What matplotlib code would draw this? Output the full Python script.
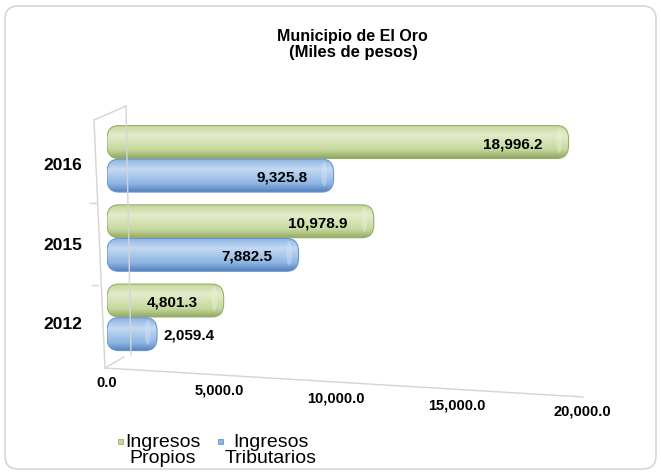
import matplotlib.pyplot as plt
import numpy as np
from matplotlib.patches import FancyBboxPatch, Ellipse, Rectangle
from matplotlib.lines import Line2D
import matplotlib.transforms as mtransforms

plt.rcParams['font.family'] = ['Liberation Sans', 'DejaVu Sans']

years = ['2012', '2015', '2016']
propios = [4801.3, 10978.9, 18996.2]
tributarios = [2059.4, 7882.5, 9325.8]
series_names = ['Ingresos\nPropios', 'Ingresos\nTributarios']
xticks = [0, 5000, 10000, 15000, 20000]

W, H = 661, 474
fig = plt.figure(figsize=(W / 100, H / 100), dpi=100)
fig.patch.set_facecolor('white')


def px(x, y):
    # pixel position (from top-left) -> figure fraction
    return x / W, 1 - y / H


# rounded frame round the whole chart
fig.patches.append(FancyBboxPatch(px(5, 469), 651 / W, 463 / H,
                                  boxstyle='round,pad=0,rounding_size=0.02',
                                  mutation_aspect=W / H, transform=fig.transFigure,
                                  facecolor='none', edgecolor='#d6d6d6', lw=1.2))

ax = fig.add_axes([107 / W, 1 - 372 / H, 486 / W, 252 / H])
for s in ax.spines.values():
    s.set_visible(False)
ax.set_xticks([])
ax.set_yticks([])

# faint 3d walls
wall = '#d4d4d4'
for (x0, y0), (x1, y1) in [((94, 120), (105, 368)), ((94, 120), (126, 106)),
                           ((126, 106), (131, 355)), ((105, 368), (124, 357)),
                           ((105, 368), (583, 397)), ((90, 203), (96, 203)),
                           ((92, 285), (98, 285))]:
    fig.add_artist(Line2D([px(x0, y0)[0], px(x1, y1)[0]], [px(x0, y0)[1], px(x1, y1)[1]],
                          transform=fig.transFigure, color=wall, lw=1))

green = dict(dark='#93a862', base='#c5d89c', light='#e3ecca', edge='#98ad68', cap='#eef4dc')
blue = dict(dark='#5583c0', base='#8eb5e3', light='#c4d9f2', edge='#6a95cd', cap='#d6e6f8')

bar_h = 0.415
off = 0.212
rx = 480
ry = 0.17


def grad_img(c):
    t = np.linspace(0, 1, 64)
    stops = [0, 0.25, 0.7, 1.0]
    cols = [plt.matplotlib.colors.to_rgb(c[k]) for k in ('dark', 'base', 'light', 'base')]
    img = np.zeros((64, 1, 3))
    for ch in range(3):
        img[:, 0, ch] = np.interp(t, stops, [col[ch] for col in cols])
    return img


def cylinder(v, yc, c):
    y0 = yc - bar_h / 2
    patch = FancyBboxPatch((0, y0), v, bar_h,
                           boxstyle=f'round,pad=0,rounding_size={rx}',
                           mutation_aspect=ry / rx, facecolor='none',
                           edgecolor=c['edge'], lw=0.8, zorder=4)
    ax.add_patch(patch)
    im = ax.imshow(grad_img(c), extent=(0, v, y0, y0 + bar_h), origin='lower',
                   aspect='auto', zorder=3, interpolation='bilinear')
    im.set_clip_path(patch)
    cap = Ellipse((v - rx * 0.8, yc + bar_h * 0.05), rx * 0.5, bar_h * 0.75,
                  facecolor=c['cap'], edgecolor='none', alpha=0.4, zorder=3.5)
    ax.add_patch(cap)
    cap.set_clip_path(patch)


ypos = np.arange(len(years))
for i, y in enumerate(ypos):
    cylinder(propios[i], y + off, green)
    cylinder(tributarios[i], y - off, blue)

for vals, sign in [(propios, 1), (tributarios, -1)]:
    for i, v in enumerate(vals):
        txt = f'{v:,.1f}'
        if v < 3000:
            ax.annotate(txt, (v, i + sign * off), xytext=(6, -1), textcoords='offset pixels',
                        ha='left', va='center', fontsize=11, fontweight='bold', zorder=6)
        else:
            ax.annotate(txt, (v, i + sign * off), xytext=(-26, -2), textcoords='offset pixels',
                        ha='right', va='center', fontsize=11, fontweight='bold', zorder=6)

ax.set_xlim(0, 20000)
ax.set_ylim(-0.69, 2.49)

# year labels, a little under the group centre
ytrans = mtransforms.blended_transform_factory(ax.transAxes, ax.transData)
for i, yr in enumerate(years):
    ax.text(0, i, yr, transform=ytrans + mtransforms.ScaledTranslation(-0.25, -0.07, fig.dpi_scale_trans),
            ha='right', va='center', fontsize=12.5, fontweight='bold')

# x tick labels follow the slanted floor
xtrans = mtransforms.blended_transform_factory(ax.transData, ax.transAxes)
for v in xticks:
    f = v / 20000
    shift = mtransforms.ScaledTranslation((-45 * f + 34 * f * f) / 100,
                                          (-11 - 32 * f + 3 * f * f) / 100,
                                          fig.dpi_scale_trans)
    ax.text(v, 0, f'{v:,.1f}', transform=xtrans + shift, ha='center', va='center',
            fontsize=10.5, fontweight='bold', clip_on=False)

fig.text(*px(352, 37), 'Municipio de El Oro', ha='center', va='center',
         fontsize=11.5, fontweight='bold')
fig.text(*px(353, 53), '(Miles de pesos)', ha='center', va='center',
         fontsize=12, fontweight='bold')

# legend: small square markers level with the first text line
for (mx, tx), name, c in zip([(118, 125), (218, 225)], series_names, [green, blue]):
    fig.patches.append(Rectangle(px(mx, 444), 5 / W, 5 / H, transform=fig.transFigure,
                                 facecolor=c['base'], edgecolor=c['edge'], lw=0.6))
    fig.text(*px(tx, 434), name, ha='left', va='top', fontsize=14,
             multialignment='center', linespacing=0.92)

fig.savefig('out.png', dpi=100)
